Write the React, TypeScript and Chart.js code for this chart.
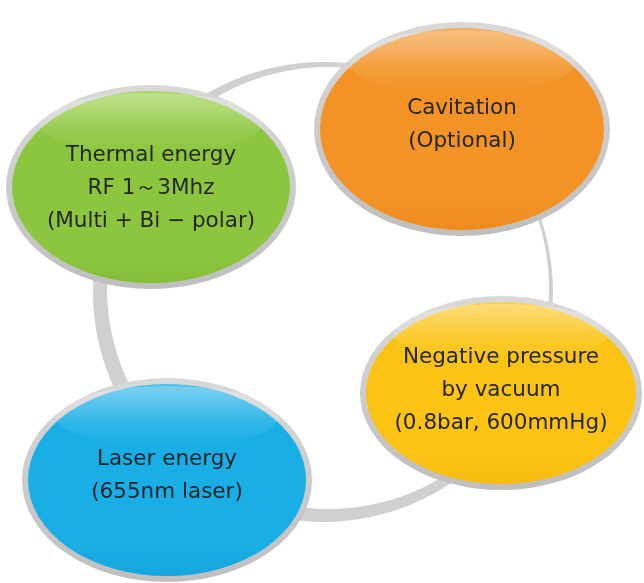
import React, { useEffect, useRef } from "react";
import { Chart, registerables } from "chart.js";

Chart.register(...registerables);

// ---- data ----
const nodeNames = ["Thermal energy", "Cavitation", "Negative pressure", "Laser energy"];
const nodeX = [151, 462, 501, 167];
const nodeY = [187, 129, 393, 480];
const nodeLines: string[][] = [
  ["Thermal energy", "RF 1～3Mhz", "(Multi + Bi − polar)"],
  ["Cavitation", "(Optional)"],
  ["Negative pressure", "by vacuum", "(0.8bar, 600mmHg)"],
  ["Laser energy", "(655nm laser)"],
];

// ---- sizes / styles ----
const radX = [145, 148, 141, 145];
const radY = [102, 107, 97, 102];
const textShiftY = [1, -4, -3, -4];
const baseColors = ["#8cc63e", "#f39325", "#fbc313", "#19aee6"];
const lightColors = ["#a9d762", "#f6aa55", "#fdd04a", "#4cbfec"];
const darkColors = ["#84be36", "#ef8b1c", "#f7bb0d", "#15a6de"];
const BORDER = 6;
const ringOuter = { x: 323, y: 292, r: 230 };
const ringInner = { x: 328, y: 288, r: 221 };

const diagramPlugin = {
  id: "diagram",
  beforeDatasetsDraw(chart: any) {
    const ctx: CanvasRenderingContext2D = chart.ctx;
    const xs = chart.scales.x;
    const ys = chart.scales.y;
    const sx = (v: number) => xs.getPixelForValue(v);
    const sy = (v: number) => ys.getPixelForValue(v);
    const kx = Math.abs(sx(1) - sx(0));
    const ky = Math.abs(sy(1) - sy(0));

    ctx.save();
    // connecting ring
    ctx.beginPath();
    ctx.ellipse(sx(ringOuter.x), sy(ringOuter.y), ringOuter.r * kx, ringOuter.r * ky, 0, 0, Math.PI * 2);
    ctx.moveTo(sx(ringInner.x) + ringInner.r * kx, sy(ringInner.y));
    ctx.ellipse(sx(ringInner.x), sy(ringInner.y), ringInner.r * kx, ringInner.r * ky, 0, 0, Math.PI * 2);
    ctx.fillStyle = "#d0d0d0";
    ctx.fill("evenodd");

    for (let i = 0; i < nodeX.length; i++) {
      const cx = sx(nodeX[i]);
      const cy = sy(nodeY[i]);
      const rx = radX[i] * kx;
      const ry = radY[i] * ky;
      // gray rim
      const bg = ctx.createLinearGradient(0, cy - ry, 0, cy + ry);
      bg.addColorStop(0, "#d9d9d9");
      bg.addColorStop(1, "#bfbfbf");
      ctx.beginPath();
      ctx.ellipse(cx, cy, rx, ry, 0, 0, Math.PI * 2);
      ctx.fillStyle = bg;
      ctx.fill();
      // main fill
      const irx = rx - BORDER;
      const iry = ry - BORDER;
      const g = ctx.createLinearGradient(0, cy - iry, 0, cy + iry);
      g.addColorStop(0, lightColors[i]);
      g.addColorStop(0.2, baseColors[i]);
      g.addColorStop(0.85, baseColors[i]);
      g.addColorStop(1, darkColors[i]);
      ctx.beginPath();
      ctx.ellipse(cx, cy, irx, iry, 0, 0, Math.PI * 2);
      ctx.fillStyle = g;
      ctx.fill();
      // subtle gloss
      const gy = cy - iry * 0.66;
      const gl = ctx.createLinearGradient(0, cy - iry, 0, cy - iry * 0.35);
      gl.addColorStop(0, "rgba(255,255,255,0.28)");
      gl.addColorStop(1, "rgba(255,255,255,0)");
      ctx.beginPath();
      ctx.ellipse(cx, gy, irx * 0.8, iry * 0.32, 0, 0, Math.PI * 2);
      ctx.fillStyle = gl;
      ctx.fill();
    }
    ctx.restore();
  },
  afterDatasetsDraw(chart: any) {
    const ctx: CanvasRenderingContext2D = chart.ctx;
    const xs = chart.scales.x;
    const ys = chart.scales.y;
    ctx.save();
    ctx.fillStyle = "#262626";
    ctx.font = '21.5px "DejaVu Sans"';
    ctx.textAlign = "center";
    ctx.textBaseline = "middle";
    const lh = 33;
    for (let i = 0; i < nodeLines.length; i++) {
      const lines = nodeLines[i];
      const cx = xs.getPixelForValue(nodeX[i]);
      const cy = ys.getPixelForValue(nodeY[i]) + textShiftY[i];
      const start = cy - ((lines.length - 1) * lh) / 2;
      lines.forEach((t, j) => ctx.fillText(t, cx, start + j * lh));
    }
    ctx.restore();
  },
};

export default function App() {
  const canvasRef = useRef<HTMLCanvasElement | null>(null);

  useEffect(() => {
    document.body.style.margin = "0";
    document.body.style.overflow = "hidden";
    const canvas = canvasRef.current;
    if (!canvas) return;
    const chart = new Chart(canvas, {
      type: "scatter",
      data: {
        datasets: [
          {
            label: "nodes",
            data: nodeX.map((x, i) => ({ x, y: nodeY[i], name: nodeNames[i] })),
            pointRadius: 0,
            pointHoverRadius: 0,
          },
        ],
      },
      options: {
        animation: false,
        responsive: false,
        layout: { padding: 0 },
        events: [],
        plugins: {
          legend: { display: false },
          tooltip: { enabled: false },
          title: { display: false },
        },
        scales: {
          x: { type: "linear", min: 0, max: 644, display: false },
          y: { type: "linear", min: 0, max: 583, reverse: true, display: false },
        },
      },
      plugins: [diagramPlugin],
    } as any);
    return () => chart.destroy();
  }, []);

  return (
    <div style={{ width: 644, height: 583, background: "#ffffff" }}>
      <canvas ref={canvasRef} width={644} height={583} style={{ display: "block" }} />
    </div>
  );
}
